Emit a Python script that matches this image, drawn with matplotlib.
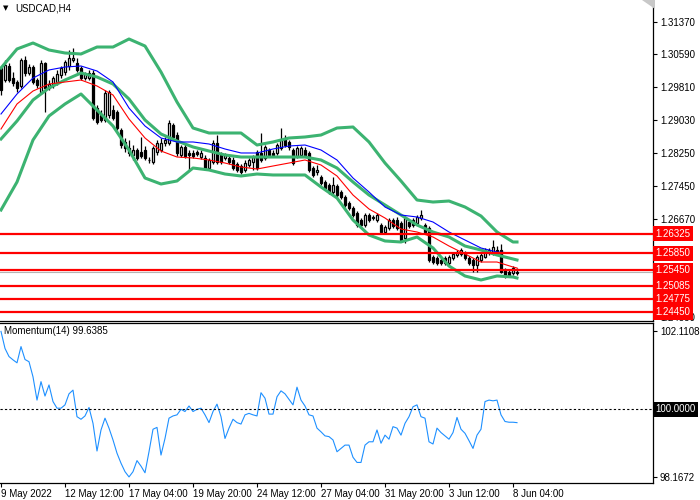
import matplotlib
matplotlib.use("Agg")
import matplotlib.pyplot as plt
import numpy as np
from matplotlib.patches import Polygon

# ---------------- data ----------------
symbol_title = "USDCAD,H4"
momentum_title = "Momentum(14) 99.6385"

opens = [1.30267, 1.29981, 1.30315, 1.30029, 1.29934, 1.29839, 1.30458, 1.30148, 1.30291, 1.29981,
         1.29696, 1.30386, 1.29791, 1.29862, 1.29934, 1.30100, 1.30172, 1.30315, 1.30458, 1.30386,
         1.30267, 1.30029, 1.30029, 1.30148, 1.29314, 1.29148, 1.29029, 1.29148, 1.29267, 1.29219,
         1.28790, 1.28505, 1.28362, 1.28195, 1.28314, 1.28266, 1.28314, 1.28076, 1.28028, 1.28266,
         1.28314, 1.28481, 1.28481, 1.28910, 1.28671, 1.28195, 1.28386, 1.28243, 1.28243, 1.28266,
         1.28147, 1.28124, 1.27885, 1.28028, 1.28481, 1.28195, 1.28124, 1.28124, 1.28076, 1.27981,
         1.27933, 1.27838, 1.27957, 1.28028, 1.28266, 1.28243, 1.28124, 1.28314, 1.28243, 1.28243,
         1.28362, 1.28600, 1.28505, 1.28314, 1.28171, 1.28195, 1.28314, 1.28243, 1.27885, 1.27790,
         1.27671, 1.27552, 1.27480, 1.27314, 1.27457, 1.27314, 1.27195, 1.27052, 1.26932, 1.26813,
         1.26647, 1.26528, 1.26766, 1.26694, 1.26647, 1.26528, 1.26361, 1.26456, 1.26647, 1.26647,
         1.26575, 1.26218, 1.26599, 1.26647, 1.26575, 1.26694, 1.26528, 1.26456, 1.25765, 1.25741,
         1.25694, 1.25741, 1.25622, 1.25741, 1.25813, 1.25837, 1.25861, 1.25741, 1.25694, 1.25575,
         1.25694, 1.25765, 1.25884, 1.25861, 1.25932, 1.25932, 1.25456, 1.25408, 1.25384, 1.25380]

highs = [1.30315, 1.30458, 1.30386, 1.30172, 1.29981, 1.30505, 1.30553, 1.30363, 1.30339, 1.30029,
         1.30458, 1.30410, 1.29981, 1.30077, 1.30220, 1.30315, 1.30458, 1.30696, 1.30744, 1.30505,
         1.30315, 1.30172, 1.30220, 1.30220, 1.29386, 1.29267, 1.29743, 1.29743, 1.29386, 1.29267,
         1.28838, 1.28600, 1.28552, 1.28433, 1.28362, 1.28624, 1.28409, 1.28147, 1.28409, 1.28552,
         1.28600, 1.28624, 1.29029, 1.28957, 1.28743, 1.28433, 1.28457, 1.28314, 1.28314, 1.28314,
         1.28314, 1.28195, 1.28124, 1.28552, 1.28671, 1.28266, 1.28243, 1.28171, 1.28147, 1.28028,
         1.27981, 1.28076, 1.28124, 1.28195, 1.28314, 1.28719, 1.28433, 1.28362, 1.28314, 1.28481,
         1.28838, 1.28671, 1.28552, 1.28362, 1.28409, 1.28409, 1.28386, 1.28290, 1.27933, 1.27957,
         1.27719, 1.27599, 1.27528, 1.27671, 1.27504, 1.27361, 1.27242, 1.27099, 1.26980, 1.26861,
         1.26694, 1.26813, 1.26813, 1.26766, 1.26813, 1.26575, 1.26528, 1.26694, 1.26694, 1.26718,
         1.26623, 1.26742, 1.26647, 1.26694, 1.26766, 1.26885, 1.26575, 1.26504, 1.25813, 1.25789,
         1.25741, 1.25789, 1.25813, 1.25884, 1.25932, 1.25980, 1.25908, 1.25789, 1.25741, 1.25813,
         1.25861, 1.25980, 1.25980, 1.26170, 1.26027, 1.26075, 1.25503, 1.25456, 1.25551, 1.25503]

lows = [1.29624, 1.29934, 1.29934, 1.29839, 1.29696, 1.29791, 1.30077, 1.30100, 1.29886, 1.29791,
        1.29648, 1.29219, 1.29743, 1.29791, 1.29862, 1.30029, 1.30100, 1.30220, 1.30410, 1.30172,
        1.29981, 1.29981, 1.29981, 1.29029, 1.28933, 1.28981, 1.28981, 1.29076, 1.29029, 1.28790,
        1.28362, 1.28266, 1.28171, 1.28076, 1.28076, 1.28124, 1.28076, 1.28004, 1.27981, 1.28195,
        1.28266, 1.28409, 1.28433, 1.28552, 1.28171, 1.28147, 1.28124, 1.27838, 1.28124, 1.28171,
        1.28100, 1.27838, 1.27838, 1.27981, 1.27981, 1.27981, 1.28076, 1.27981, 1.27838, 1.27790,
        1.27742, 1.27790, 1.27909, 1.27838, 1.27838, 1.28028, 1.28076, 1.28147, 1.28147, 1.28195,
        1.28314, 1.28386, 1.28314, 1.27957, 1.28124, 1.28147, 1.28147, 1.27790, 1.27671, 1.27719,
        1.27480, 1.27361, 1.27266, 1.27266, 1.27195, 1.27147, 1.26956, 1.26885, 1.26718, 1.26480,
        1.26480, 1.26480, 1.26599, 1.26647, 1.26599, 1.26313, 1.26313, 1.26408, 1.26456, 1.26408,
        1.26123, 1.26099, 1.26456, 1.26480, 1.26528, 1.26647, 1.26313, 1.25646, 1.25599, 1.25575,
        1.25575, 1.25575, 1.25575, 1.25694, 1.25765, 1.25789, 1.25694, 1.25575, 1.25408, 1.25408,
        1.25646, 1.25741, 1.25813, 1.25813, 1.25837, 1.25384, 1.25265, 1.25289, 1.25337, 1.25337]

closes = [1.29743, 1.30339, 1.29981, 1.29910, 1.29791, 1.30458, 1.30148, 1.30291, 1.29934, 1.29862,
          1.30386, 1.29791, 1.29886, 1.30029, 1.30124, 1.30267, 1.30410, 1.30505, 1.30505, 1.30220,
          1.30029, 1.30124, 1.30148, 1.29076, 1.28981, 1.29029, 1.29672, 1.29696, 1.29076, 1.28838,
          1.28433, 1.28362, 1.28243, 1.28314, 1.28124, 1.28171, 1.28124, 1.28070, 1.28362, 1.28481,
          1.28481, 1.28552, 1.28957, 1.28624, 1.28243, 1.28386, 1.28171, 1.28195, 1.28171, 1.28219,
          1.28243, 1.27885, 1.28076, 1.28481, 1.28028, 1.28028, 1.28195, 1.28028, 1.27885, 1.27838,
          1.27790, 1.28004, 1.28076, 1.28147, 1.27885, 1.28076, 1.28386, 1.28195, 1.28195, 1.28433,
          1.28552, 1.28433, 1.28386, 1.28004, 1.28362, 1.28362, 1.28195, 1.27838, 1.27719, 1.27838,
          1.27528, 1.27409, 1.27314, 1.27480, 1.27242, 1.27195, 1.27004, 1.26932, 1.26766, 1.26528,
          1.26528, 1.26766, 1.26647, 1.26718, 1.26766, 1.26361, 1.26480, 1.26647, 1.26504, 1.26456,
          1.26170, 1.26694, 1.26504, 1.26528, 1.26718, 1.26766, 1.26361, 1.25694, 1.25646, 1.25622,
          1.25622, 1.25622, 1.25765, 1.25837, 1.25884, 1.25932, 1.25741, 1.25622, 1.25575, 1.25765,
          1.25813, 1.25932, 1.25932, 1.26004, 1.25884, 1.25408, 1.25337, 1.25337, 1.25503, 1.25420]

# indicator samples (every 4th bar + last bar)
band_bars = [0, 4, 8, 12, 16, 20, 24, 28, 32, 36, 40, 44, 48, 52, 56, 60, 64,
             68, 72, 76, 80, 84, 88, 92, 96, 100, 104, 108, 112, 116, 120, 124, 128, 129]
bb_upper = [1.30267, 1.30720, 1.30863, 1.30696, 1.30625, 1.30601, 1.30767, 1.30767, 1.30958, 1.30791,
            1.30172, 1.29457, 1.28838, 1.28719, 1.28719, 1.28719, 1.28433, 1.28505, 1.28600, 1.28624,
            1.28671, 1.28838, 1.28862, 1.28505, 1.28004, 1.27576, 1.27123, 1.27075, 1.27099, 1.26956,
            1.26742, 1.26361, 1.26123, 1.26123]
bb_middle = [1.28576, 1.29005, 1.29505, 1.29791, 1.29981, 1.30148, 1.30053, 1.29886, 1.29529, 1.29029,
             1.28695, 1.28529, 1.28386, 1.28290, 1.28195, 1.28147, 1.28147, 1.28147, 1.28147, 1.28147,
             1.28076, 1.27885, 1.27552, 1.27242, 1.27004, 1.26766, 1.26528, 1.26361, 1.26242, 1.26027,
             1.25932, 1.25813, 1.25718, 1.25694]
bb_lower = [1.26885, 1.27552, 1.28552, 1.29124, 1.29410, 1.29648, 1.29267, 1.28886, 1.28314, 1.27647,
            1.27504, 1.27576, 1.27885, 1.27838, 1.27742, 1.27695, 1.27742, 1.27719, 1.27719, 1.27719,
            1.27433, 1.27171, 1.26647, 1.26289, 1.26147, 1.26123, 1.26242, 1.25980, 1.25551, 1.25313,
            1.25218, 1.25313, 1.25289, 1.25265]
ma_blue = [1.29172, 1.29648, 1.30029, 1.30220, 1.30291, 1.30315, 1.30196, 1.29934, 1.29314, 1.28886,
           1.28600, 1.28505, 1.28505, 1.28457, 1.28338, 1.28243, 1.28243, 1.28338, 1.28409, 1.28433,
           1.28314, 1.28076, 1.27647, 1.27314, 1.26956, 1.26766, 1.26718, 1.26599, 1.26361, 1.26170,
           1.25980, 1.25884, 1.25861, 1.25861]
ma_red = [1.28814, 1.29410, 1.29719, 1.29886, 1.29934, 1.29981, 1.29839, 1.29624, 1.29052, 1.28600,
          1.28290, 1.28147, 1.28124, 1.28076, 1.28004, 1.27909, 1.27861, 1.27933, 1.28004, 1.28076,
          1.27957, 1.27695, 1.27242, 1.26909, 1.26694, 1.26432, 1.26361, 1.26242, 1.26027, 1.25837,
          1.25646, 1.25646, 1.25527, 1.25503]

momentum = [102.1108, 101.65, 101.43, 101.34, 101.26, 101.70, 101.35, 101.29, 100.88, 100.25,
            100.75, 100.36, 100.66, 100.21, 100.03, 100.03, 100.12, 100.42, 100.52, 99.80,
            99.73, 99.82, 100.05, 99.62, 98.87, 99.44, 99.76, 99.49, 99.17, 98.81,
            98.54, 98.31, 98.1672, 98.31, 98.61, 98.46, 98.28, 98.85, 99.46, 99.51,
            98.76, 99.21, 99.76, 99.82, 99.85, 100.00, 99.94, 100.09, 99.94, 100.00,
            100.03, 99.85, 99.64, 99.94, 100.14, 99.80, 99.21, 99.49, 99.73, 99.64,
            99.60, 99.85, 99.89, 99.85, 99.82, 100.45, 100.30, 99.87, 99.87, 100.34,
            100.50, 100.42, 100.27, 100.12, 100.60, 100.25, 100.09, 99.85, 99.82, 99.49,
            99.39, 99.28, 99.26, 99.17, 98.85, 98.94, 99.03, 99.03, 98.70, 98.56,
            98.56, 99.03, 99.12, 99.12, 99.44, 99.08, 99.30, 99.19, 99.53, 99.49,
            99.30, 99.62, 99.80, 100.07, 100.12, 99.80, 99.76, 99.12, 99.06, 99.49,
            99.37, 99.28, 99.19, 99.37, 99.78, 99.46, 99.35, 99.15, 98.94, 99.30,
            99.46, 100.21, 100.25, 100.23, 100.25, 99.85, 99.67, 99.65, 99.65, 99.6385]

level_lines = [1.26325, 1.25850, 1.25450, 1.25085, 1.24775, 1.24450]
price_ticks = [1.31370, 1.30590, 1.29810, 1.29030, 1.28250, 1.27450, 1.26670, 1.24330]
momentum_ticks = [102.1108, 98.1672]
momentum_level = 100.0
date_tick_bars = [0, 16, 32, 48, 64, 80, 96, 112, 128]
date_tick_labels = ["9 May 2022", "12 May 12:00", "17 May 04:00", "19 May 20:00", "24 May 12:00",
                    "27 May 04:00", "31 May 20:00", "3 Jun 12:00", "8 Jun 04:00"]

# ---------------- figure ----------------
FONT = "Liberation Sans"
FS = 7
plt.rcParams['font.family'] = [FONT, 'DejaVu Sans']

W, H = 700, 500
fig = plt.figure(figsize=(7, 5), dpi=100)
ax1 = fig.add_axes([0, 1 - 321 / H, 653 / W, 321 / H])
ax2 = fig.add_axes([0, 1 - 483 / H, 653 / W, 160 / H])

x = np.arange(len(closes))
o = np.array(opens); hh = np.array(highs); ll = np.array(lows); c = np.array(closes)
up = c >= o
bottom = np.minimum(o, c)
height = np.maximum(np.abs(c - o), 0.00002)

ax1.vlines(x, ll, hh, color='black', lw=0.9, zorder=2)
ax1.bar(x[up], height[up], bottom=bottom[up], width=0.6, facecolor='white',
        edgecolor='black', linewidth=0.9, zorder=3)
ax1.bar(x[~up], height[~up], bottom=bottom[~up], width=0.6, facecolor='black',
        edgecolor='black', linewidth=0.9, zorder=3)

green = '#3CB371'
ax1.plot(band_bars, bb_upper, color=green, lw=2.2, zorder=4, solid_joinstyle='round')
ax1.plot(band_bars, bb_middle, color=green, lw=2.2, zorder=4, solid_joinstyle='round')
ax1.plot(band_bars, bb_lower, color=green, lw=2.2, zorder=4, solid_joinstyle='round')
ax1.plot(band_bars, ma_blue, color='#0000FF', lw=0.8, zorder=4)
ax1.plot(band_bars, ma_red, color='#FF0000', lw=0.8, zorder=4)

# bid line
ax1.axhline(closes[-1], color='#B4B4B4', lw=0.8, zorder=1)

for lvl in level_lines:
    ax1.axhline(lvl, color='#FF0000', lw=1.6, zorder=5)
    ax1.text(1.004, lvl, f"{lvl:.5f}", transform=ax1.get_yaxis_transform(),
             ha='left', va='center', color='white', fontsize=FS, zorder=10,
             bbox=dict(boxstyle='square,pad=0.25', fc='#FF0000', ec='none'), clip_on=False)

ax1.set_xlim(-0.25, -0.25 + 653 / 4)
ax1.set_ylim(1.24241, 1.31887)
ax1.yaxis.tick_right()
ax1.set_yticks(price_ticks)
ax1.set_yticklabels([f"{v:.5f}" for v in price_ticks])
ax1.tick_params(axis='y', direction='out', length=3, width=0.8, pad=2, labelsize=FS)
ax1.set_xticks([])
for s in ['left', 'top']:
    ax1.spines[s].set_visible(False)
for s in ['right', 'bottom']:
    ax1.spines[s].set_linewidth(0.9)

fig.text(3 / W, 1 - 8.5 / H, "\u25BC", fontsize=5, va='center', ha='left', family='DejaVu Sans')
fig.text(15 / W, 1 - 8.5 / H, symbol_title, fontsize=FS, va='center', ha='left')
fig.patches.append(Polygon([(642 / W, 1.0), (655 / W, 1.0), (655 / W, 1 - 9 / H)],
                           closed=True, transform=fig.transFigure, fc='#C8C8C8', ec='none'))

# ---------------- momentum panel ----------------
ax2.plot(x, momentum, color='#1E90FF', lw=0.8)
ax2.axhline(momentum_level, color='black', lw=0.8, ls=(0, (2, 2)))
ax2.set_xlim(-0.25, -0.25 + 653 / 4)
ax2.set_ylim(98.003, 102.339)
ax2.yaxis.tick_right()
ax2.set_yticks(momentum_ticks)
ax2.set_yticklabels([f"{v:.4f}" for v in momentum_ticks])
ax2.tick_params(axis='y', direction='out', length=3, width=0.8, pad=2, labelsize=FS)
ax2.set_xticks(date_tick_bars)
ax2.set_xticklabels(date_tick_labels)
ax2.tick_params(axis='x', direction='out', length=3, width=0.8, pad=1.5, labelsize=FS)
for lbl in ax2.get_xticklabels():
    lbl.set_ha('left')
ax2.spines['left'].set_visible(False)
for s in ['right', 'bottom', 'top']:
    ax2.spines[s].set_linewidth(0.9)
ax2.text(1.004, momentum_level, f"{momentum_level:.4f}", transform=ax2.get_yaxis_transform(),
         ha='left', va='center', color='white', fontsize=FS, zorder=10,
         bbox=dict(boxstyle='square,pad=0.25', fc='black', ec='none'), clip_on=False)
ax2.text(4 / 653, 0.95, momentum_title, transform=ax2.transAxes, fontsize=FS,
         ha='left', va='center')

fig.savefig("out.png", dpi=100)
